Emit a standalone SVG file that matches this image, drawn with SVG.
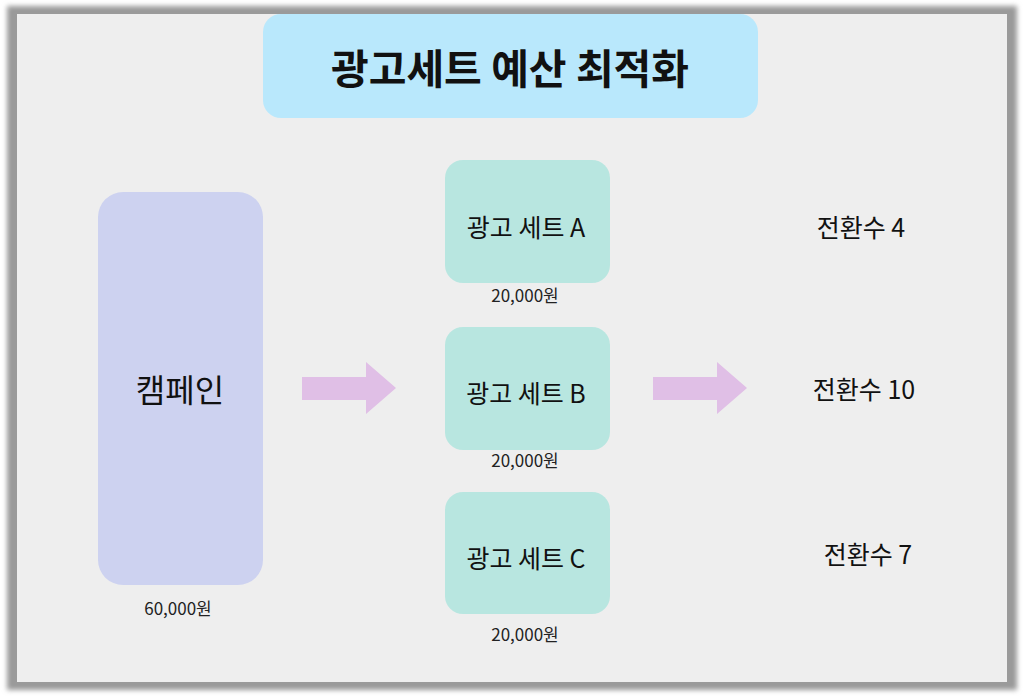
<svg xmlns="http://www.w3.org/2000/svg" width="1024" height="696" viewBox="0 0 1024 696">
<defs>
<filter id="blur" x="-5%" y="-5%" width="110%" height="110%"><feGaussianBlur stdDeviation="2.5"/></filter>
<style>
text{font-family:"Noto Sans CJK KR","Noto Sans",sans-serif;fill:#111;text-anchor:middle}
.title{font-size:41px;font-weight:bold}
.big{font-size:32px}
.mid{font-size:25px}
.small{font-size:17px;fill:#222}
.set{fill:#b8e6e0}
.arrow{fill:#e0bfe6}
</style>
</defs>
<rect x="0" y="0" width="1024" height="696" fill="#ffffff"/>
<rect x="7" y="6" width="1010" height="684" fill="#9a9a9a" filter="url(#blur)"/>
<rect x="17" y="14" width="990" height="668" fill="#eeeeee"/>
<g id="title">
<rect x="263" y="14" width="495" height="104" rx="18" fill="#b9e8fc"/>
<text class="title" x="510" y="84">광고세트 예산 최적화</text>
</g>
<g id="campaign">
<rect x="98" y="192" width="165" height="393" rx="25" fill="#cdd2f0"/>
<text class="big" x="180" y="402">캠페인</text>
<text class="small" x="178" y="615">60,000원</text>
</g>
<g id="setA">
<rect class="set" x="445" y="160" width="165" height="123" rx="18"/>
<text class="mid" x="526" y="237">광고 세트 A</text>
<text class="small" x="525" y="302">20,000원</text>
</g>
<g id="setB">
<rect class="set" x="445" y="327" width="165" height="123" rx="18"/>
<text class="mid" x="526" y="403">광고 세트 B</text>
<text class="small" x="525" y="467">20,000원</text>
</g>
<g id="setC">
<rect class="set" x="445" y="492" width="165" height="122" rx="18"/>
<text class="mid" x="526" y="568">광고 세트 C</text>
<text class="small" x="525" y="641">20,000원</text>
</g>
<g id="convA"><text class="mid" x="861" y="237">전환수 4</text></g>
<g id="convB"><text class="mid" x="864" y="399">전환수 10</text></g>
<g id="convC"><text class="mid" x="868" y="564">전환수 7</text></g>
<g id="connectors">
<polygon class="arrow" points="302,377 366,377 366,362 396,388 366,414 366,400 302,400"/>
<polygon class="arrow" points="653,377 717,377 717,362 747,388 717,414 717,400 653,400"/>
</g>
</svg>
